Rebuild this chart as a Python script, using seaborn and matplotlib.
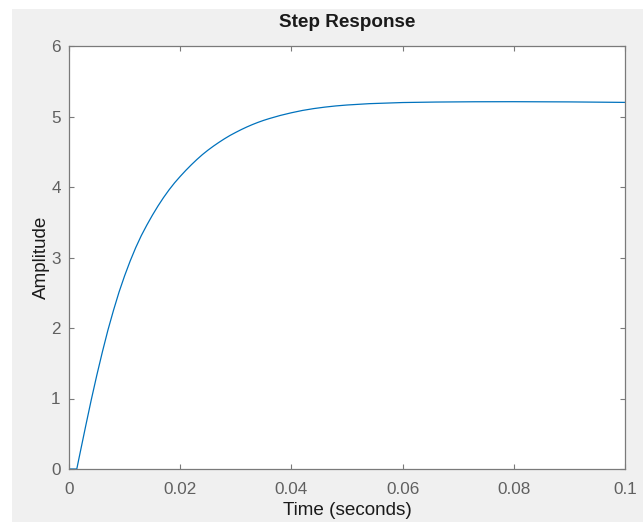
import numpy as np
import pandas as pd
import matplotlib
matplotlib.use("Agg")
import matplotlib.pyplot as plt
import seaborn as sns
from matplotlib.patches import Rectangle

# ---- data read (estimated) from the reference curve ----
time_s = [0.0, 0.0014, 0.0020, 0.0030, 0.0040, 0.0050, 0.0060, 0.0070, 0.0080,
          0.0090, 0.0100, 0.0110, 0.0120, 0.0130, 0.0140, 0.0150, 0.0160, 0.0170,
          0.0180, 0.0190, 0.0200, 0.0210, 0.0220, 0.0230, 0.0240, 0.0250, 0.0260,
          0.0270, 0.0280, 0.0290, 0.0300, 0.0310, 0.0320, 0.0330, 0.0340, 0.0350,
          0.0360, 0.0380, 0.0400, 0.0420, 0.0440, 0.0460, 0.0480, 0.0500, 0.0540,
          0.0600, 0.0660, 0.0730, 0.0800, 0.0900, 0.1000]
amplitude = [0.0, 0.0, 0.23, 0.61, 0.98, 1.33, 1.66, 1.97, 2.25,
             2.51, 2.74, 2.95, 3.14, 3.31, 3.46, 3.60, 3.73, 3.85,
             3.96, 4.06, 4.15, 4.235, 4.315, 4.39, 4.46, 4.523, 4.581,
             4.635, 4.686, 4.733, 4.775, 4.815, 4.852, 4.886, 4.917, 4.945,
             4.970, 5.015, 5.053, 5.086, 5.112, 5.133, 5.150, 5.163, 5.182,
             5.198, 5.205, 5.209, 5.210, 5.207, 5.200]
x_ticks = [0, 0.02, 0.04, 0.06, 0.08, 0.1]
x_tick_labels = ["0", "0.02", "0.04", "0.06", "0.08", "0.1"]
y_ticks = [0, 1, 2, 3, 4, 5, 6]
y_tick_labels = ["0", "1", "2", "3", "4", "5", "6"]
title_text = "Step Response"
x_label = "Time (seconds)"
y_label = "Amplitude"

df = pd.DataFrame({"t": time_s, "y": amplitude})

sns.set_theme(style="white")
plt.rcParams["font.family"] = ["Liberation Sans", "DejaVu Sans"]

W, H = 643, 522
fig = plt.figure(figsize=(W / 100, H / 100), dpi=100)
fig.patch.set_facecolor("white")
# grey window area (white strip at top/left as in screenshot)
fig.patches.append(Rectangle((12 / W, 0), 1 - 12 / W, 1 - 9 / H,
                             transform=fig.transFigure, facecolor="#f0f0f0",
                             edgecolor="none", zorder=-10))

ax = fig.add_axes([69 / W, 53 / H, (625 - 69) / W, (469 - 46) / H])
ax.set_zorder(5)
ax.set_facecolor("white")

sns.lineplot(data=df, x="t", y="y", ax=ax, color="#0072BD", linewidth=0.9,
             estimator=None, sort=False)

ax.set_xlim(0, 0.1)
ax.set_ylim(0, 6)
ax.set_xticks(x_ticks)
ax.set_xticklabels(x_tick_labels)
ax.set_yticks(y_ticks)
ax.set_yticklabels(y_tick_labels)

spine_col = "#7a7a7a"
for s in ax.spines.values():
    s.set_visible(True)
    s.set_color(spine_col)
    s.set_linewidth(0.9)

ax.tick_params(direction="in", length=3.5, width=0.8, color=spine_col,
               labelcolor="#606060", labelsize=12.3, top=True, right=True,
               bottom=True, left=True)
ax.tick_params(axis="x", pad=9)
ax.tick_params(axis="y", pad=6)

ax.set_title(title_text, fontsize=13.6, fontweight="bold", color="#1a1a1a", pad=14)
ax.set_xlabel(x_label, fontsize=13.6, color="#1a1a1a", labelpad=4)
ax.set_ylabel(y_label, fontsize=13.6, color="#1a1a1a", labelpad=1)

fig.savefig("out.png", dpi=100, facecolor=fig.get_facecolor())
